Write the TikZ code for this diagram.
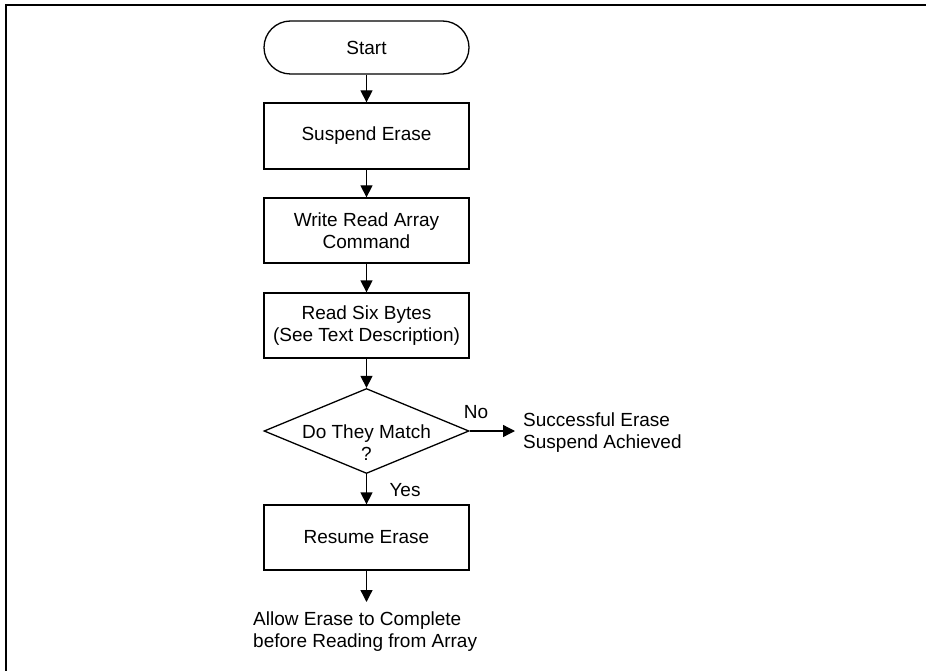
\documentclass[tikz,border=0pt]{standalone}
\usepackage{fontspec}
\setmainfont{Liberation Sans}
\usetikzlibrary{shapes.geometric,arrows.meta}
\begin{document}
\begin{tikzpicture}[x=1pt,y=-1pt,
  every node/.style={font=\fontsize{19}{22}\selectfont, inner sep=0pt},
  procbox/.style={draw, line width=1.3pt, minimum width=205pt, minimum height=65pt, align=center},
  termbox/.style={draw, line width=1.3pt, minimum width=205pt, minimum height=53pt, rounded corners=26.5pt},
  decbox/.style={draw, diamond, line width=1.3pt, minimum width=205pt, minimum height=85pt},
  conn/.style={line width=1.3pt, -{Triangle[width=12pt,length=12pt]}},
  frameline/.style={line width=2pt}
]
\useasboundingbox (0,0) rectangle (926,671);
\draw[frameline] (6,671) -- (6,5) -- (926,5);

\node[termbox] (start) at (366.5,47.5) {Start};
\node[procbox, minimum height=66pt] (susp) at (366.5,136) {Suspend Erase};
\node[procbox] (write) at (366.5,230.5) {Write Read Array\\Command};
\node[procbox] (read) at (366.5,325.5) {Read Six Bytes\\(See Text Description)};
\node[decbox] (dec) at (366.5,431) {};
\node[align=center] (dectext) at (366.5,443) {Do They Match\\?};
\node[procbox] (resume) at (366.5,537.5) {Resume Erase};
\coordinate (endpt) at (366.5,602);
\coordinate (nopt) at (515,431);
\node[anchor=north west, align=left] (allow) at (253,612) {Allow Erase to Complete\\before Reading from Array};
\node[anchor=north west, align=left] (succ) at (523,413) {Successful Erase\\Suspend Achieved};
\node (no) at (476,412) {No};
\node (yes) at (405,490) {Yes};

\draw[conn] (start) -- (susp);
\draw[conn] (susp) -- (write);
\draw[conn] (write) -- (read);
\draw[conn] (read) -- (dec);
\draw[conn] (dec) -- (resume);
\draw[conn] (dec.east) -- (nopt);
\draw[conn] (resume) -- (endpt);
\end{tikzpicture}
\end{document}
